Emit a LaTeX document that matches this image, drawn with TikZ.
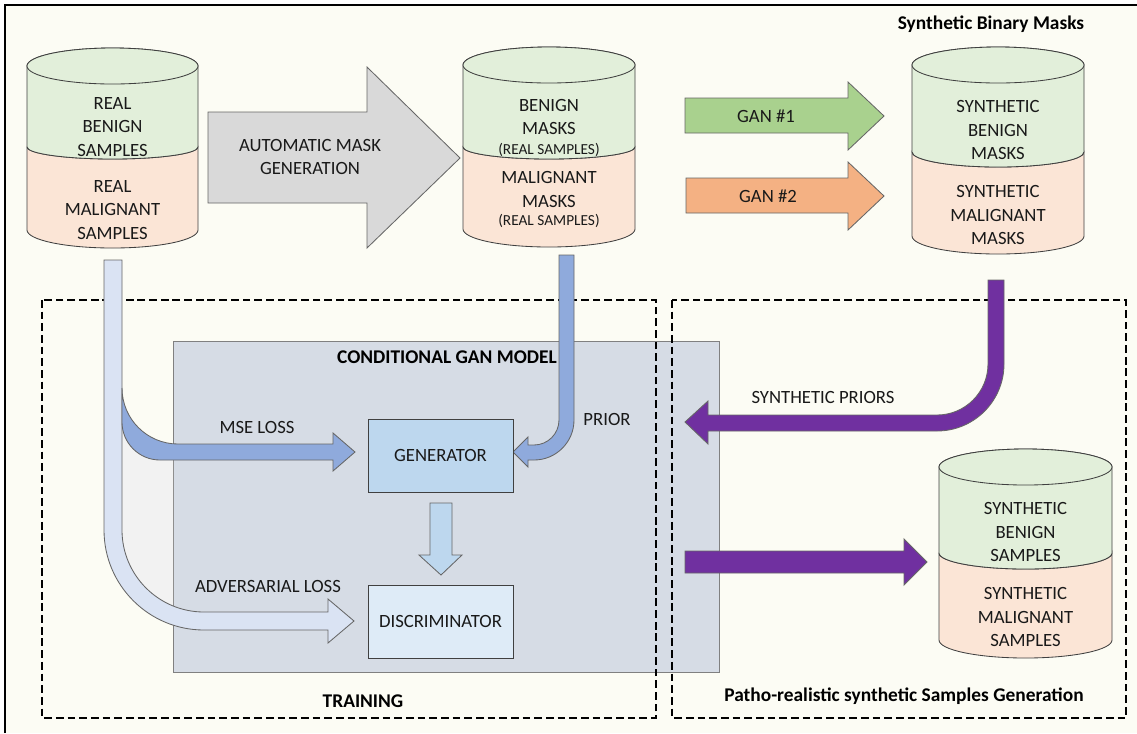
\documentclass[tikz,border=0pt]{standalone}
\usepackage{fontspec}
\setmainfont{Carlito}

\definecolor{bgcream}{HTML}{FCFCF4}
\definecolor{benign}{HTML}{E2EFDA}
\definecolor{malign}{HTML}{FBE5D6}
\definecolor{autogray}{HTML}{D9D9D9}
\definecolor{gangreen}{HTML}{A9D18E}
\definecolor{ganorange}{HTML}{F4B183}
\definecolor{modelgray}{HTML}{D6DCE5}
\definecolor{genblue}{HTML}{BDD7EE}
\definecolor{discblue}{HTML}{DEEBF7}
\definecolor{paleband}{HTML}{DAE3F3}
\definecolor{priorblue}{HTML}{8FAADC}
\definecolor{synpurple}{HTML}{7030A0}
\definecolor{shadegray}{HTML}{F2F2F2}
\definecolor{darkedge}{HTML}{404040}

\tikzset{
  drumline/.style={draw=darkedge, line width=0.6pt},
  blockarrow/.style={draw=darkedge!80, line width=0.6pt},
  lbl/.style={text=black!90, align=center, font=\fontsize{13.3}{16.7}\selectfont},
  smalllbl/.style={text=black!90, align=center, font=\fontsize{10.9}{12}\selectfont},
  ttl/.style={text=black, align=center, font=\fontsize{13.8}{16.7}\selectfont\bfseries},
  dashbox/.style={draw=black, line width=1.4pt, dash pattern=on 5.5pt off 2.8pt},
  netbox/.style={draw=darkedge, line width=0.6pt, minimum width=3.625cm, minimum height=1.825cm, lbl},
}

\begin{document}
\begin{tikzpicture}[x=0.025cm, y=-0.025cm]
      \useasboundingbox (0,0) rectangle (1137,733);
      \fill[bgcream] (5,5) rectangle (1137,733);
      \draw[line width=2.1pt] (5,733) -- (5,5) -- (1137,5);

      % real samples
      \draw[drumline, fill=malign] (27,147) -- (27,230) arc[start angle=180, end angle=0, x radius=85.5, y radius=18] -- (198,147) arc[start angle=0, end angle=180, x radius=85.5, y radius=12] -- cycle;
      \draw[drumline, fill=benign] (27,66) -- (27,147) arc[start angle=180, end angle=0, x radius=85.5, y radius=12] -- (198,66) arc[start angle=0, end angle=-180, x radius=85.5, y radius=18] -- cycle;
      \draw[drumline, fill=benign] (112.5,66) ellipse[x radius=85.5, y radius=18];
      \node[lbl] (RB) at (112.5,127) {REAL\\BENIGN\\SAMPLES};
      \node[lbl] (RM) at (112.5,210) {REAL\\MALIGNANT\\SAMPLES};

      % real masks
      \draw[drumline, fill=malign] (463,147) -- (463,229) arc[start angle=180, end angle=0, x radius=86, y radius=18] -- (635,147) arc[start angle=0, end angle=180, x radius=86, y radius=12] -- cycle;
      \draw[drumline, fill=benign] (463,65) -- (463,147) arc[start angle=180, end angle=0, x radius=86, y radius=12] -- (635,65) arc[start angle=0, end angle=-180, x radius=86, y radius=18] -- cycle;
      \draw[drumline, fill=benign] (549,65) ellipse[x radius=86, y radius=18];
      \node[lbl] (MB) at (549,117) {BENIGN\\MASKS};
      \node[smalllbl] (MBs) at (549,150) {(REAL SAMPLES)};
      \node[lbl] (MM) at (549,189.5) {MALIGNANT\\MASKS};
      \node[smalllbl] (MMs) at (549,221) {(REAL SAMPLES)};

      % synthetic masks
      \draw[drumline, fill=malign] (912,152) -- (912,236) arc[start angle=180, end angle=0, x radius=86, y radius=18] -- (1084,152) arc[start angle=0, end angle=180, x radius=86, y radius=15] -- cycle;
      \draw[drumline, fill=benign] (912,65) -- (912,152) arc[start angle=180, end angle=0, x radius=86, y radius=15] -- (1084,65) arc[start angle=0, end angle=-180, x radius=86, y radius=18] -- cycle;
      \draw[drumline, fill=benign] (998,65) ellipse[x radius=86, y radius=18];
      \node[lbl] (SB) at (998,130) {SYNTHETIC\\BENIGN\\MASKS};
      \node[lbl] (SM) at (998,215) {SYNTHETIC\\MALIGNANT\\MASKS};
      \node[ttl] (SBM) at (991,24) {Synthetic Binary Masks};

      % synthetic samples
      \draw[drumline, fill=malign] (939,553) -- (939,640) arc[start angle=180, end angle=0, x radius=86.5, y radius=18] -- (1112,553) arc[start angle=0, end angle=180, x radius=86.5, y radius=16] -- cycle;
      \draw[drumline, fill=benign] (939,467) -- (939,553) arc[start angle=180, end angle=0, x radius=86.5, y radius=16] -- (1112,467) arc[start angle=0, end angle=-180, x radius=86.5, y radius=18] -- cycle;
      \draw[drumline, fill=benign] (1025.5,467) ellipse[x radius=86.5, y radius=18];
      \node[lbl] (XB) at (1025.5,532) {SYNTHETIC\\BENIGN\\SAMPLES};
      \node[lbl] (XM) at (1025.5,617) {SYNTHETIC\\MALIGNANT\\SAMPLES};

      % mask generation and the two gans
      \draw[blockarrow, fill=autogray] (208,112) -- (367,112) -- (367,67) -- (460,158) -- (367,248) -- (367,203) -- (208,203) -- cycle;
      \node[lbl] (AMG) at (310,157) {AUTOMATIC MASK\\GENERATION};
      \draw[blockarrow, fill=gangreen] (685,98) -- (848,98) -- (848,82) -- (884,116) -- (848,150) -- (848,133) -- (685,133) -- cycle;
      \node[lbl] (G1) at (766,116) {GAN \#1};
      \draw[blockarrow, fill=ganorange] (686,178) -- (848,178) -- (848,162) -- (884,196) -- (848,230) -- (848,213) -- (686,213) -- cycle;
      \node[lbl] (G2) at (768,196) {GAN \#2};

      % model and the two dashed areas
      \draw[draw=gray, line width=0.6pt, fill=modelgray] (173,341) rectangle (719,672);
      \node[ttl] (CGM) at (447,357) {CONDITIONAL GAN MODEL};
      \draw[dashbox] (42,300) rectangle (656,718);
      \draw[dashbox] (672,300) rectangle (1126,718);
      \node[ttl] (TR) at (363,701) {TRAINING};
      \node[ttl] (PG) at (904,696) {Patho-realistic synthetic Samples Generation};

      % losses
      \fill[shadegray] (122,422) -- (122,530) arc[start angle=180, end angle=112.2, radius=82] -- (173,460) -- (160,460) arc[start angle=90, end angle=180, radius=38] -- cycle;
      \draw[blockarrow, fill=paleband] (104,260) -- (122,260) -- (122,530) arc[start angle=180, end angle=90, radius=82] -- (328,612) -- (328,599) -- (354,621) -- (328,643) -- (328,630) -- (204,630) arc[start angle=90, end angle=180, radius=100] -- cycle;
      \draw[blockarrow, fill=priorblue] (122,388) arc[start angle=180, end angle=90, radius=56] -- (333,444) -- (333,433) -- (355,452) -- (333,471) -- (333,460) -- (160,460) arc[start angle=90, end angle=180, radius=38] -- cycle;
      \node[lbl] (MSE) at (257,427) {MSE LOSS};
      \node[lbl] (ADV) at (268,586) {ADVERSARIAL LOSS};

      % prior
      \draw[blockarrow, fill=priorblue] (559,255) -- (574,255) -- (574,420) arc[start angle=0, end angle=90, radius=40] -- (528,460) -- (528,467) -- (513,452) -- (528,437) -- (528,445) -- (534,445) arc[start angle=90, end angle=0, radius=25] -- cycle;
      \node[lbl] (PR) at (607,419) {PRIOR};

      % generator and discriminator
      \node[netbox, fill=genblue] (GEN) at (440.5,455.5) {GENERATOR};
      \node[netbox, fill=discblue] (DIS) at (440.5,621.5) {DISCRIMINATOR};
      \draw[blockarrow, fill=genblue] (430,503) -- (452,503) -- (452,555) -- (462,555) -- (441,575) -- (419,555) -- (430,555) -- cycle;

      % synthetic priors and samples
      \draw[blockarrow, fill=synpurple] (988,280) -- (1004,280) -- (1004,364) arc[start angle=0, end angle=90, radius=67] -- (708,431) -- (708,444) -- (685,422) -- (708,401) -- (708,415) -- (937,415) arc[start angle=90, end angle=0, radius=51] -- cycle;
      \node[lbl] (SP) at (823,397) {SYNTHETIC PRIORS};
      \draw[blockarrow, fill=synpurple] (685,551) -- (904,551) -- (904,539) -- (927,562) -- (904,585) -- (904,573) -- (685,573) -- cycle;
\end{tikzpicture}
\end{document}
